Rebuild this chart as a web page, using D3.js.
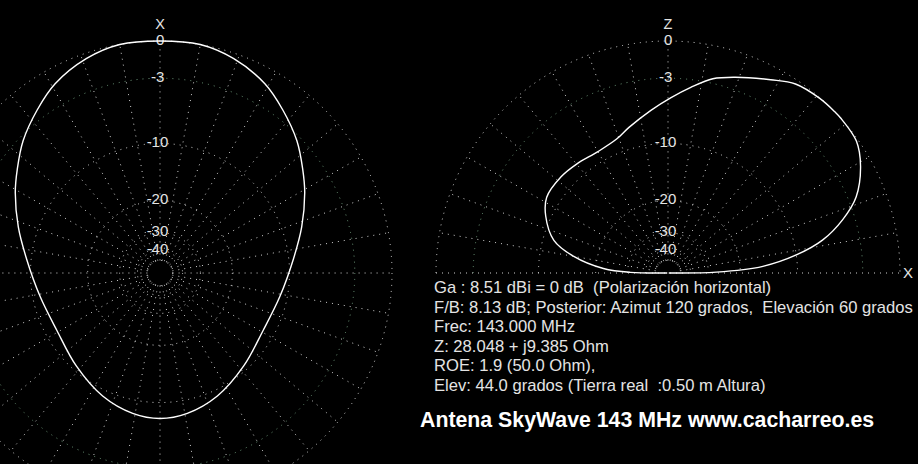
<!DOCTYPE html>
<html><head><meta charset="utf-8">
<script src="https://cdn.jsdelivr.net/npm/d3@7"></script>
<style>body{margin:0;background:#000;overflow:hidden}svg{display:block}</style>
</head><body>
<script>
// Azimuth pattern (degrees clockwise from X, dB relative to max)
const azAngles = [0,10,19,29,37,46,54,61,72,84,101,119,138,155,169,180,191,205,222,241,259,276,288,299,306,314,323,331,341,350];
const azGain   = [0,0,-0.4,-1.2,-2.2,-3.4,-4.7,-5.8,-7.6,-9.4,-11.0,-11.6,-10.6,-9.2,-8.3,-8.0,-8.3,-9.2,-10.6,-11.6,-11.0,-9.4,-7.6,-5.8,-4.7,-3.4,-2.2,-1.2,-0.4,0];
// Elevation pattern (degrees above horizon toward X, dB)
const elAngles = [0,1,4,8,12,17,22,29,35,42,44,49,56,62,71,77,83,89,96,105,111,120,130,138,148,155,164,170,176,179,180];
const elGain   = [-99,-26.9,-15.3,-10.0,-6.6,-4.1,-2.3,-0.9,-0.15,0,0,-0.05,-0.3,-1.0,-1.95,-2.6,-3.7,-4.8,-6.0,-7.4,-8.25,-8.65,-8.4,-8.2,-8.3,-9.3,-11.5,-15.2,-21.9,-31.1,-99];

const ringDb = [0,-3,-10,-20,-30,-40,-50];
const ringLabels = ["0","-3","-10","-20","-30","-40"];
const infoLines = [
  "Ga : 8.51 dBi = 0 dB  (Polarización horizontal)",
  "F/B: 8.13 dB; Posterior: Azimut 120 grados,  Elevación 60 grados",
  "Frec: 143.000 MHz",
  "Z: 28.048 + j9.385 Ohm",
  "ROE: 1.9 (50.0 Ohm),",
  "Elev: 44.0 grados (Tierra real  :0.50 m Altura)"
];
const title = "Antena SkyWave 143 MHz www.cacharreo.es";

const W = 918, H = 464, R = 232;
const svg = d3.select("body").append("svg").attr("width", W).attr("height", H).style("background", "#000");

// ARRL log scale: radius = R * 0.89^(-dB/2) -> power law on power ratio
const rScale = d3.scalePow().exponent(0.25305).domain([0, 1]).range([0, R]);
const rad = db => rScale(Math.pow(10, db / 10));
const azScale = d3.scaleLinear().domain([0, 360]).range([0, 2 * Math.PI]);
const elScale = d3.scaleLinear().domain([0, 180]).range([Math.PI / 2, -Math.PI / 2]);

const font = "'Liberation Sans', Arial, sans-serif";
const dotted = "1,5";

function grid(g, half) {
  ringDb.forEach(db => {
    const r = rad(db);
    const col = db === -3 ? "#6f9a7c" : "#d8d8d8";
    if (half) {
      const p = d3.path(); p.arc(0, 0, r, Math.PI, 2 * Math.PI);
      g.append("path").attr("d", p.toString()).attr("fill", "none").attr("stroke", col).attr("stroke-dasharray", dotted);
    } else {
      g.append("circle").attr("r", r).attr("fill", "none").attr("stroke", col).attr("stroke-dasharray", dotted);
    }
  });
  const spokes = half ? d3.range(10, 180, 10) : d3.range(0, 360, 10);
  spokes.forEach(a => {
    const ang = half ? elScale(a) : azScale(a);
    const r0 = rad(-50), r1 = R;
    g.append("line")
      .attr("x1", r0 * Math.sin(ang)).attr("y1", -r0 * Math.cos(ang))
      .attr("x2", r1 * Math.sin(ang)).attr("y2", -r1 * Math.cos(ang))
      .attr("stroke", "#d0d0d0").attr("stroke-dasharray", dotted);
  });
  if (half) {
    g.append("line").attr("x1", -R).attr("x2", R).attr("y1", 0).attr("y2", 0)
      .attr("stroke", "#d0d0d0").attr("stroke-dasharray", dotted);
  }
  ringLabels.forEach((t, i) => {
    const digits = t.replace("-", "").length;
    g.append("text").attr("x", 3.9 * digits + 0.5).attr("y", -rad(ringDb[i]) + 3.5)
      .attr("text-anchor", "end").attr("fill", "#e4e4e4")
      .attr("font-family", font).attr("font-size", 15).text(t);
  });
}

// Left: azimuth plot
const gL = svg.append("g").attr("transform", "translate(160,273)");
grid(gL, false);
gL.append("text").attr("x", 0).attr("y", -244.5).attr("text-anchor", "middle")
  .attr("fill", "#e4e4e4").attr("font-family", font).attr("font-size", 14.5).text("X");
const azData = azAngles.map((a, i) => [azScale(a), rad(azGain[i])]);
gL.append("path")
  .attr("d", d3.lineRadial().angle(d => d[0]).radius(d => d[1]).curve(d3.curveCatmullRomClosed.alpha(0.5))(azData))
  .attr("fill", "none").attr("stroke", "#fff").attr("stroke-width", 1.4);

// Right: elevation plot
const gR = svg.append("g").attr("transform", "translate(668,273)");
grid(gR, true);
gR.append("text").attr("x", 0).attr("y", -244.5).attr("text-anchor", "middle")
  .attr("fill", "#e4e4e4").attr("font-family", font).attr("font-size", 14.5).text("Z");
gR.append("text").attr("x", 240).attr("y", 5).attr("text-anchor", "middle")
  .attr("fill", "#e4e4e4").attr("font-family", font).attr("font-size", 15).text("X");
const elData = elAngles.map((a, i) => [elScale(a), rad(elGain[i])]);
gR.append("path")
  .attr("d", d3.lineRadial().angle(d => d[0]).radius(d => d[1]).curve(d3.curveCatmullRom.alpha(0.5))(elData))
  .attr("fill", "none").attr("stroke", "#fff").attr("stroke-width", 1.4);

// Info text
const info = svg.append("g");
infoLines.forEach((t, i) => {
  info.append("text").attr("x", 434).attr("y", 293 + i * 19.6)
    .attr("fill", "#e4e4e4").attr("font-family", font).attr("font-size", 16.6)
    .style("white-space", "pre").text(t);
});
svg.append("text").attr("x", 420).attr("y", 427)
  .attr("fill", "#fff").attr("font-family", font).attr("font-size", 21.3).attr("font-weight", "bold")
  .text(title);
</script>
</body></html>
